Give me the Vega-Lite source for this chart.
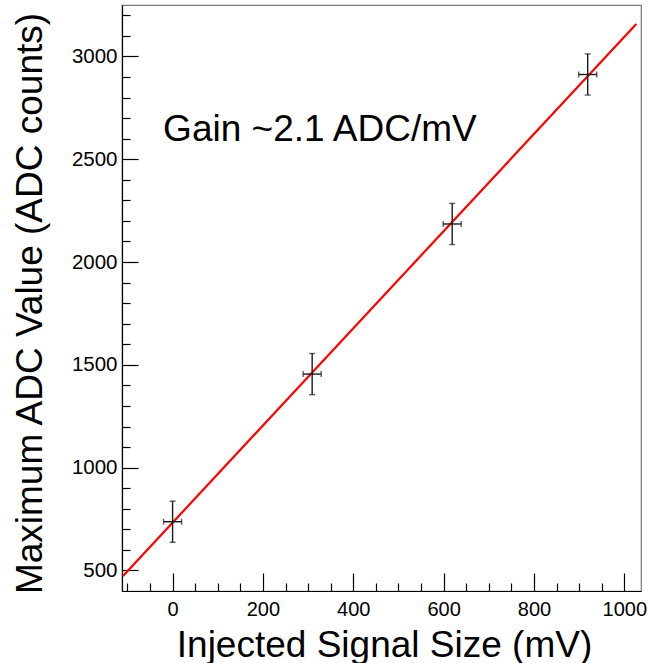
{
  "$schema": "https://vega.github.io/schema/vega-lite/v6.json",
  "width": 519,
  "height": 586,
  "autosize": {"type": "none"},
  "padding": {"left": 122, "top": 5, "right": 7, "bottom": 72},
  "background": "white",
  "config": {
    "view": {"stroke": "#777777", "strokeWidth": 1.2},
    "font": "Liberation Sans",
    "axis": {"grid": false}
  },
  "datasets": {
    "points": [
      {"x": 0, "y": 737, "xlo": -20, "xhi": 20, "ylo": 637, "yhi": 837},
      {"x": 309, "y": 1455, "xlo": 289, "xhi": 329, "ylo": 1355, "yhi": 1555},
      {"x": 619, "y": 2185, "xlo": 599, "xhi": 639, "ylo": 2085, "yhi": 2285},
      {"x": 919, "y": 2912, "xlo": 899, "xhi": 939, "ylo": 2812, "yhi": 3012}
    ],
    "fit": [
      {"x": -109.8, "y": 473},
      {"x": 1026.6, "y": 3157.6}
    ],
    "label": [
      {"x": -21, "y": 2589, "text": "Gain ~2.1 ADC/mV"}
    ]
  },
  "layer": [
    {
      "data": {"name": "fit"},
      "mark": {"type": "line", "color": "#ff0000", "strokeWidth": 2.2, "clip": true},
      "encoding": {
        "x": {
          "field": "x", "type": "quantitative",
          "scale": {"domain": [-112, 1037], "nice": false, "zero": false},
          "axis": {
            "orient": "bottom", "values": [0, 200, 400, 600, 800, 1000], "format": "d",
            "ticks": false, "grid": false, "domain": true, "domainColor": "#000000", "domainWidth": 1.2,
            "labelFontSize": 20, "labelColor": "#000000", "labelFont": "Liberation Sans",
            "labelPadding": 8, "labelBaseline": "top", "labelFlush": false, "labelOverlap": false,
            "title": "Injected Signal Size (mV)", "titleFontSize": 37, "titleFontWeight": "normal",
            "titleColor": "#000000", "titleFont": "Liberation Sans",
            "titleX": 262, "titleY": 65, "titleAlign": "center", "titleBaseline": "alphabetic", "titleAnchor": null
          }
        },
        "y": {
          "field": "y", "type": "quantitative",
          "scale": {"domain": [400, 3250], "nice": false, "zero": false},
          "axis": {
            "orient": "left", "values": [500, 1000, 1500, 2000, 2500, 3000], "format": "d",
            "ticks": false, "grid": false, "domain": true, "domainColor": "#000000", "domainWidth": 1.2,
            "labelFontSize": 20.5, "labelColor": "#000000", "labelFont": "Liberation Sans",
            "labelPadding": 5, "labelFlush": false, "labelOverlap": false,
            "title": "Maximum ADC Value (ADC counts)", "titleFontSize": 37, "titleFontWeight": "normal",
            "titleColor": "#000000", "titleFont": "Liberation Sans", "titleAngle": -90,
            "titleX": -81, "titleY": 298, "titleAlign": "center", "titleBaseline": "alphabetic", "titleAnchor": null
          }
        }
      }
    },
    {
      "data": {"name": "points"},
      "mark": {"type": "rule", "color": "#1a1a1a", "strokeWidth": 1.4},
      "encoding": {
        "x": {
          "field": "x", "type": "quantitative",
          "axis": {
            "orient": "bottom", "values": [0, 200, 400, 600, 800, 1000], "offset": -18,
            "labels": false, "domain": false, "title": null, "grid": false,
            "ticks": true, "tickSize": 18, "tickColor": "#000000", "tickWidth": 1.2
          }
        },
        "y": {
          "field": "ylo", "type": "quantitative",
          "axis": {
            "orient": "left", "values": [500, 1000, 1500, 2000, 2500, 3000], "offset": -16,
            "labels": false, "domain": false, "title": null, "grid": false,
            "ticks": true, "tickSize": 16, "tickColor": "#000000", "tickWidth": 1.2
          }
        },
        "y2": {"field": "yhi"}
      }
    },
    {
      "data": {"name": "points"},
      "mark": {"type": "rule", "color": "#1a1a1a", "strokeWidth": 1.4},
      "encoding": {
        "x": {
          "field": "xlo", "type": "quantitative",
          "axis": {
            "orient": "bottom", "offset": -8,
            "values": [-100, -50, 50, 100, 150, 250, 300, 350, 450, 500, 550, 650, 700, 750, 850, 900, 950],
            "labels": false, "domain": false, "title": null, "grid": false,
            "ticks": true, "tickSize": 8, "tickColor": "#000000", "tickWidth": 1.2
          }
        },
        "x2": {"field": "xhi"},
        "y": {
          "field": "y", "type": "quantitative",
          "axis": {
            "orient": "left", "offset": -8,
            "values": [600, 700, 800, 900, 1100, 1200, 1300, 1400, 1600, 1700, 1800, 1900, 2100, 2200, 2300, 2400, 2600, 2700, 2800, 2900, 3100, 3200],
            "labels": false, "domain": false, "title": null, "grid": false,
            "ticks": true, "tickSize": 8, "tickColor": "#000000", "tickWidth": 1.2
          }
        }
      }
    },
    {
      "data": {"name": "points"},
      "mark": {"type": "tick", "orient": "horizontal", "color": "#1a1a1a", "size": 6, "thickness": 1.4},
      "encoding": {
        "x": {"field": "x", "type": "quantitative", "axis": null},
        "y": {"field": "ylo", "type": "quantitative", "axis": null}
      }
    },
    {
      "data": {"name": "points"},
      "mark": {"type": "tick", "orient": "horizontal", "color": "#1a1a1a", "size": 6, "thickness": 1.4},
      "encoding": {
        "x": {"field": "x", "type": "quantitative", "axis": null},
        "y": {"field": "yhi", "type": "quantitative", "axis": null}
      }
    },
    {
      "data": {"name": "points"},
      "mark": {"type": "tick", "orient": "vertical", "color": "#1a1a1a", "size": 6, "thickness": 1.4},
      "encoding": {
        "x": {"field": "xlo", "type": "quantitative", "axis": null},
        "y": {"field": "y", "type": "quantitative", "axis": null}
      }
    },
    {
      "data": {"name": "points"},
      "mark": {"type": "tick", "orient": "vertical", "color": "#1a1a1a", "size": 6, "thickness": 1.4},
      "encoding": {
        "x": {"field": "xhi", "type": "quantitative", "axis": null},
        "y": {"field": "y", "type": "quantitative", "axis": null}
      }
    },
    {
      "data": {"name": "label"},
      "mark": {"type": "text", "align": "left", "baseline": "alphabetic", "fontSize": 37, "font": "Liberation Sans", "color": "#000000"},
      "encoding": {
        "x": {"field": "x", "type": "quantitative", "axis": null},
        "y": {"field": "y", "type": "quantitative", "axis": null},
        "text": {"field": "text"}
      }
    }
  ],
  "resolve": {"axis": {"x": "independent", "y": "independent"}}
}
